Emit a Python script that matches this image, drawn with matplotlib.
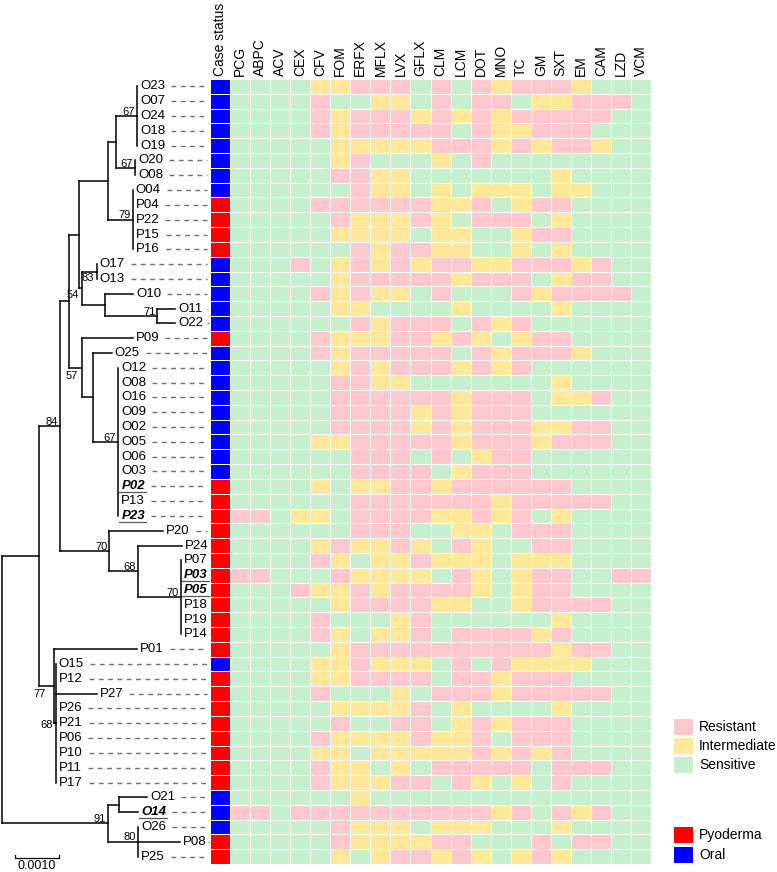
import numpy as np
import matplotlib.pyplot as plt
from matplotlib.colors import ListedColormap
from matplotlib.patches import Rectangle

plt.rcParams['font.family'] = ['Liberation Sans', 'DejaVu Sans']

# antibiotic panel (heatmap columns after case status)
drugs = ['PCG', 'ABPC', 'ACV', 'CEX', 'CFV', 'FOM', 'ERFX', 'MFLX', 'LVX', 'GFLX',
         'CLM', 'LCM', 'DOT', 'MNO', 'TC', 'GM', 'SXT', 'EM', 'CAM', 'LZD', 'VCM']

# isolates, top to bottom, as in the tree
isolates = ['O23', 'O07', 'O24', 'O18', 'O19', 'O20', 'O08', 'O04', 'P04', 'P22',
            'P15', 'P16', 'O17', 'O13', 'O10', 'O11', 'O22', 'P09', 'O25', 'O12',
            'O08', 'O16', 'O09', 'O02', 'O05', 'O06', 'O03', 'P02', 'P13', 'P23',
            'P20', 'P24', 'P07', 'P03', 'P05', 'P18', 'P19', 'P14', 'P01', 'O15',
            'P12', 'P27', 'P26', 'P21', 'P06', 'P10', 'P11', 'P17', 'O21', 'O14',
            'O26', 'P08', 'P25']

# S = sensitive, I = intermediate, R = resistant (one char per drug)
profiles = [
    'SSSSIIRRRSRSRIRRRISSS', 'SSSSRSSIISRSRRSIIRRRS', 'SSSSRIRRRIRIRIRRRRRSS',
    'SSSSRIRRRRRSRIIRRRSSS', 'SSSSSIIIIIRRRIRIRRISS', 'SSSSSIRSSSISRSSSSSSSS',
    'SSSSSRRIISSSSSSSISSSS', 'SSSSSSRIISISIIISIISSS', 'SSSSRRRRRRIIRSIRRSSSS',
    'SSSSSRIIIRISRRRSISSSS', 'SSSSSIIIISIISSIRRSSSS', 'SSSSSSRIRRIISSISISSSS',
    'SSSRSIRIRIRRIIRRRIRSS', 'SSSSSIRRRRRIRRRSIRRSS', 'SSSSRIRIISRSSSRIRRRRS',
    'SSSSSIISSSSISSSSISSSS', 'SSSSSSRIRRRSRIRSSSSSS', 'SSSSRIIIRRIRISIRRSSSS',
    'SSSSRIRRRRRSRIRRRISSS', 'SSSSSIRIRRRIRIRSSSSSS', 'SSSSSRRIISSSSSSSISSSS',
    'SSSSSRRRRRRIRRRSIIRSS', 'SSSSSRRRRIRIRRRSSSSSS', 'SSSSSRRRRIRIRRRIIRRSS',
    'SSSSIIRRRRRIRRRIRRRSS', 'SSSSSSRRRSRSIRRSSSSSS', 'SSSSSSRRRRSIRRRSSSSSS',
    'SSSSISIIRRIRRRRRRSSSS', 'SSSSSSRRRRRRRIRRRRRSS', 'RRSIISRRRRIIRIRSISSSS',
    'SSSSSSRRRSSIISRRRSSSS', 'SSSSIRIIRISRISSRRSSSS', 'SSSSRISIIRIIISIIISSSS',
    'RRSSSRIIIISRISIRRSSRR', 'SSSRIIRIRRRRISIRRSSSS', 'SSSSSIRRRRIISSIRRRRSS',
    'SSSSRSSSIRSSSSSSISSSS', 'SSSSRISIIRSRRRRIRSSSS', 'SSSSSIRRRRRRRRRRIRRSS',
    'SSSSIIRIIISRSRIIIISSS', 'SSSSIIRRRRSRRIRRRSSSS', 'SSSSRSSSISRRRIRRRRRSS',
    'SSSSSIIIIRSISSSSISSSS', 'SSSSSRSSRRSIRIRRRSSSS', 'SSSSRIIIIRIIRSRRRSSSS',
    'SSSSIISIIIIIRIRIRSSSS', 'SSSSRIISISRRRRRSRRRSS', 'SSSSRIIIRRSRISISRSSSS',
    'SSSSSSISSSSSSSSSSSSSS', 'RRSRRRRRRRRRRIRSRIRSS', 'SSSSSRIIISIIISSSISSSS',
    'SSSSSRIIIIRRSSSRSRRSS', 'SSSSSISIRRIRISIRISSSS',
]

highlighted = ['P02', 'P23', 'P03', 'P05', 'O14']

# neighbour-joining tree, branch lengths in substitutions/site, bootstrap as node labels
tree_newick = """(
 (((((((O23:0,O07:0,O24:0,O18:0,O19:0)67:0.000487,(O20:0,O08:0)67:0.00044):0.000167,
      (O04:0,P04:0,P22:0,P15:0,P16:0)79:0.000557):0.000666,
     ((O17:0,O13:0)83:0.000341,(O10:0.000642,(O11:0.0004,O22:0.0004)71:0.001192):0.00053)54:0.000061
    ):0.000227,
    (P09:0.001159,(O25:0.00042,
      (O12:0,O08:0,O16:0,O09:0,O02:0,O05:0,O06:0,O03:0,P02:0,P13:0,P23:0)67:0.00057):0.000262)57:0.000288
   ):0.000205,
   (P20:0.001225,(P24:0.00099,(P07:0,P03:0,P05:0,P18:0,P19:0,P14:0)70:0.000975)68:0.000655)70:0.00112
  )84:0.000477,
  (P01:0.001881,(O15:0,P12:0,P27:0.00093,P26:0,P21:0,P06:0,P10:0,P11:0,P17:0)68:0.00004)77:0.000341
 ):0.000848,
 ((O21:0.00063,O14:0.00043):0.000247,(O26:0,P08:0.00095,P25:0)80:0.000677)91:0.002423
);"""


def parse_newick(s):
    s = ''.join(s.split())
    pos = 0

    def node():
        nonlocal pos
        n = {'children': [], 'name': '', 'length': 0.0}
        if s[pos] == '(':
            pos += 1
            n['children'].append(node())
            while s[pos] == ',':
                pos += 1
                n['children'].append(node())
            pos += 1
        start = pos
        while s[pos] not in ',():;':
            pos += 1
        n['name'] = s[start:pos]
        if s[pos] == ':':
            pos += 1
            start = pos
            while s[pos] not in ',();':
                pos += 1
            n['length'] = float(s[start:pos])
        return n

    return node()


root = parse_newick(tree_newick)
leaves = []


def layout(n, x0):
    n['x'] = x0 + n['length']
    if n['children']:
        for c in n['children']:
            layout(c, n['x'])
        n['y'] = (n['children'][0]['y'] + n['children'][-1]['y']) / 2
        n['first'] = n['children'][0]['first']
    else:
        n['y'] = len(leaves)
        n['first'] = n['name']
        leaves.append(n)


layout(root, 0.0)

# figure geometry (pixels)
W, H = 777, 872
top_px, bot_px = 79, 864
hm_left, hm_right = 210, 651
nrow = len(isolates)

fig = plt.figure(figsize=(W / 100, H / 100), dpi=100)
ax_t = fig.add_axes([0, 1 - bot_px / H, hm_left / W, (bot_px - top_px) / H])
ax_h = fig.add_axes([hm_left / W, 1 - bot_px / H, (hm_right - hm_left) / W, (bot_px - top_px) / H])

# ---- heatmap ----
code = {'S': 0, 'I': 1, 'R': 2}
mat = np.array([[3 if name.startswith('P') else 4] + [code[c] for c in prof]
                for name, prof in zip(isolates, profiles)])
cmap = ListedColormap(['#C6EFCE', '#FFE899', '#FFC7CE', '#FF0000', '#0000FF'])
ax_h.pcolormesh(np.arange(mat.shape[1] + 1) - 0.5, np.arange(nrow + 1) - 0.5, mat,
                cmap=cmap, vmin=-0.5, vmax=4.5, edgecolors='white', linewidth=0.7)
ax_h.set_xlim(-0.5, mat.shape[1] - 0.5)
ax_h.set_ylim(nrow - 0.5, -0.5)
ax_h.xaxis.tick_top()
ax_h.set_xticks(range(mat.shape[1]))
ax_h.set_xticklabels(['Case status'] + drugs, rotation=90, fontsize=10, va='bottom')
ax_h.tick_params(axis='x', length=0, pad=2)
ax_h.set_yticks([])
for sp in ax_h.spines.values():
    sp.set_visible(False)

# ---- tree ----
px = 0.001 / 44.0  # tree units per pixel
ax_t.set_xlim(-1.7 * px, (hm_left - 1.7) * px)
ax_t.set_ylim(nrow - 0.5, -0.5)
ax_t.axis('off')
lw = 1.1


def draw(n):
    if not n['children']:
        return
    ys = [c['y'] for c in n['children']]
    ax_t.plot([n['x'], n['x']], [ys[0], ys[-1]], color='black', lw=lw, solid_capstyle='projecting')
    for c in n['children']:
        if c['x'] > n['x']:
            ax_t.plot([n['x'], c['x']], [c['y'], c['y']], color='black', lw=lw, solid_capstyle='projecting')
        draw(c)


draw(root)

# bootstrap values
below = {'O17': (-2, -1, 'top'), 'P09': (-3, -2, 'top'), 'P01': (-6, -2, 'top'), 'O15': (-2, -1, 'center')}


def supports(n):
    if n['children']:
        if n['name'] and n is not root:
            dx, dy, va = below.get(n['first'], (-1.5, -0.5, 'bottom'))
            ax_t.annotate(n['name'], (n['x'], n['y']), xytext=(dx, dy), textcoords='offset points',
                          ha='right', va=va, fontsize=8)
        for c in n['children']:
            supports(c)


supports(root)

# tip labels
tip_texts = []
for lf in leaves:
    hl = lf['name'] in highlighted
    t = ax_t.text(lf['x'] + 3 * px, lf['y'], lf['name'], ha='left', va='center', fontsize=9.5,
                  fontweight='bold' if hl else 'normal', fontstyle='italic' if hl else 'normal')
    tip_texts.append((lf, t, hl))

fig.canvas.draw()
inv = ax_t.transData.inverted()
for lf, t, hl in tip_texts:
    bb = t.get_window_extent()
    (x0, y0), (x1, y1) = inv.transform([[bb.x0, bb.y0], [bb.x1, bb.y1]])
    ax_t.plot([x1 + 6 * px, (hm_left - 5) * px], [lf['y'], lf['y']], color='#707070', lw=1.0,
              dashes=(3.5, 3.2))
    if hl:
        ax_t.plot([x0 - 2 * px, x1 + 1 * px], [y0 - 0.02, y0 - 0.02], color='#555555', lw=0.9)

# scale bar
sy = (858 - top_px) / ((bot_px - top_px) / nrow) - 0.5
sx0 = 13 * px
tick = 0.2
ax_t.plot([sx0, sx0, sx0 + 0.001, sx0 + 0.001], [sy - tick, sy, sy, sy - tick], color='black', lw=0.9,
          clip_on=False)
ax_t.text(sx0 + 0.0005, sy + 0.55, '0.0010', ha='center', va='center', fontsize=9, clip_on=False)

# ---- legends ----
ax_o = fig.add_axes([0, 0, 1, 1], facecolor='none')
ax_o.set_xlim(0, W)
ax_o.set_ylim(H, 0)
ax_o.axis('off')
legend1 = [('Resistant', '#FFC7CE'), ('Intermediate', '#FFE899'), ('Sensitive', '#C6EFCE')]
legend2 = [('Pyoderma', '#FF0000'), ('Oral', '#0000FF')]
for i, (lab, col) in enumerate(legend1):
    y = 719 + i * 19
    ax_o.add_patch(Rectangle((674, y), 19, 15.5, color=col, lw=0))
    ax_o.text(699, y + 8, lab, ha='left', va='center', fontsize=10)
for i, (lab, col) in enumerate(legend2):
    y = 827 + i * 20
    ax_o.add_patch(Rectangle((674, y), 19, 15.5, color=col, lw=0))
    ax_o.text(699, y + 8, lab, ha='left', va='center', fontsize=10)

fig.savefig('out.png', dpi=100)
